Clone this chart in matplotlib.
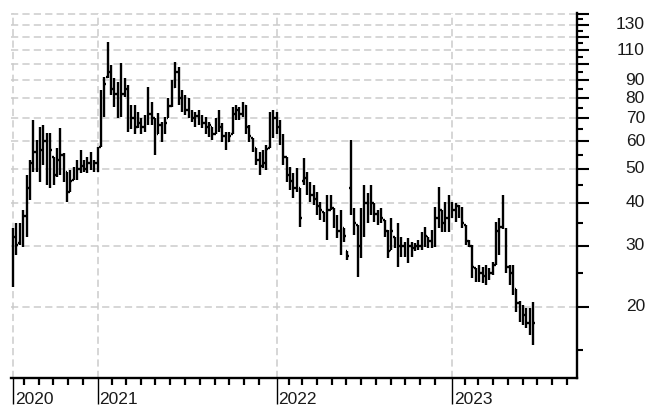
import numpy as np
import pandas as pd
import matplotlib
matplotlib.use("Agg")
import matplotlib.pyplot as plt
import matplotlib.dates as mdates
import matplotlib.transforms as mtrans

plt.rcParams['font.family'] = ['Liberation Sans', 'DejaVu Sans']
plt.rcParams['lines.scale_dashes'] = False

# Weekly OHLC bars (Friday dates)
first_week = "2020-07-10"
n_weeks = 155

highs = [33.8, 35.0, 35.0, 38.1, 48.1, 53.1, 69.3, 60.5, 66.1, 67.0,
         63.6, 63.6, 54.2, 57.5, 65.7, 55.6, 49.0, 49.7, 50.7, 53.1,
         56.8, 53.1, 54.2, 56.0, 53.1, 57.9, 84.6, 92.2, 116.3, 99.9,
         91.6, 89.1, 101.2, 91.6, 87.4, 76.5, 76.5, 73.1, 70.2, 71.6,
         86.3, 78.1, 70.2, 72.6, 68.4, 70.7, 80.2, 90.4, 101.9, 98.5,
         84.6, 81.8, 80.2, 74.1, 73.1, 74.1, 71.6, 70.7, 68.4, 66.1,
         70.2, 74.1, 67.9, 64.0, 64.0, 75.5, 76.5, 75.5, 78.1, 76.5,
         67.0, 61.5, 57.5, 56.0, 56.8, 58.7, 73.1, 74.1, 73.1, 69.3,
         63.0, 54.2, 50.7, 48.7, 50.4, 44.1, 53.8, 49.0, 45.9, 45.0,
         42.9, 40.2, 37.6, 42.1, 42.1, 38.6, 36.9, 38.1, 33.8, 28.9,
         60.7, 38.6, 34.5, 38.6, 45.0, 42.6, 45.0, 40.0, 38.1, 38.6,
         35.6, 33.3, 36.1, 31.8, 35.0, 31.8, 30.8, 31.6, 30.8, 30.6,
         31.2, 32.9, 34.0, 31.8, 33.3, 38.9, 44.4, 38.1, 40.2, 42.1,
         40.2, 40.0, 39.4, 38.9, 34.5, 31.2, 30.2, 25.9, 26.4, 26.1,
         26.4, 25.9, 27.0, 35.2, 36.1, 42.1, 33.8, 26.4, 26.4, 22.6,
         20.8, 20.3, 19.9, 19.9, 20.7]

lows = [22.8, 28.2, 30.2, 29.8, 31.8, 40.7, 49.0, 49.0, 45.9, 51.4,
        45.0, 44.0, 45.0, 47.4, 48.1, 45.9, 40.2, 42.9, 46.5, 46.5,
        48.7, 49.0, 48.7, 49.7, 49.0, 49.0, 57.9, 70.7, 91.6, 81.8,
        75.5, 70.2, 70.7, 80.7, 64.0, 65.0, 63.0, 65.7, 63.0, 64.0,
        67.0, 67.0, 54.9, 63.0, 59.9, 63.0, 70.2, 75.5, 85.7, 76.5,
        73.1, 71.6, 70.2, 68.4, 66.1, 67.0, 65.7, 63.0, 61.9, 60.7,
        63.0, 64.0, 59.9, 56.8, 59.9, 63.0, 69.3, 69.3, 70.7, 63.0,
        59.9, 56.0, 51.4, 48.1, 50.4, 49.7, 57.5, 61.5, 63.0, 58.7,
        51.4, 45.9, 43.5, 41.3, 42.9, 34.0, 45.0, 42.1, 40.2, 39.4,
        36.9, 35.6, 35.2, 31.2, 38.1, 33.8, 31.6, 28.2, 30.8, 27.3,
        36.9, 32.3, 24.4, 27.7, 31.8, 35.0, 36.9, 35.2, 34.5, 35.0,
        31.8, 27.7, 29.2, 29.6, 26.1, 27.9, 27.9, 26.8, 27.9, 29.0,
        29.2, 29.2, 29.8, 29.6, 29.6, 29.8, 33.8, 32.8, 32.8, 32.8,
        36.1, 35.2, 36.1, 33.8, 30.2, 29.8, 24.3, 23.6, 23.6, 23.4,
        23.1, 23.9, 24.7, 26.4, 28.2, 33.6, 25.0, 23.1, 21.6, 19.3,
        18.1, 17.7, 17.4, 16.6, 15.5]

opens = [24.0, 31.8, 30.5, 31.2, 36.5, 44.0, 52.0, 56.0, 55.0, 56.8,
         60.0, 47.0, 54.0, 48.0, 53.0, 55.0, 49.0, 43.0, 46.5, 47.0,
         50.0, 51.0, 50.0, 52.0, 51.0, 52.0, 58.0, 80.0, 92.0, 95.0,
         85.0, 82.0, 78.0, 82.0, 85.0, 68.0, 70.0, 66.0, 68.0, 66.0,
         68.0, 72.0, 70.0, 63.0, 67.0, 64.0, 70.2, 76.0, 86.0, 95.0,
         80.0, 76.0, 74.0, 72.0, 70.0, 71.0, 70.0, 68.0, 66.0, 66.1,
         63.0, 67.0, 66.0, 62.0, 60.0, 63.0, 72.0, 74.0, 72.0, 76.0,
         66.0, 61.5, 57.5, 53.0, 51.0, 52.0, 57.5, 68.0, 70.0, 66.0,
         62.0, 54.0, 48.0, 46.0, 44.0, 44.0, 46.0, 47.0, 44.0, 42.0,
         41.0, 39.0, 37.6, 36.0, 38.1, 38.6, 35.0, 33.0, 33.8, 28.9,
         44.0, 38.0, 34.5, 30.0, 36.0, 40.0, 38.0, 40.0, 37.0, 36.0,
         35.6, 33.0, 29.2, 31.8, 31.0, 30.0, 30.0, 29.0, 30.0, 29.5,
         30.0, 30.0, 31.0, 31.8, 31.0, 31.5, 36.0, 38.0, 35.0, 36.0,
         39.0, 38.0, 39.0, 37.0, 34.5, 31.0, 30.0, 25.9, 25.0, 25.0,
         24.5, 25.0, 25.0, 26.4, 33.0, 34.0, 33.0, 26.0, 25.0, 22.6,
         20.5, 19.0, 19.0, 18.0, 17.0]

closes = [31.8, 30.2, 31.2, 36.5, 44.0, 52.0, 56.0, 55.0, 56.8, 60.0,
          47.0, 56.8, 48.0, 53.0, 55.0, 49.0, 43.0, 46.0, 47.0, 50.0,
          51.0, 50.0, 52.0, 51.0, 52.0, 56.0, 80.0, 88.0, 95.0, 85.0,
          82.0, 78.0, 82.0, 85.0, 68.0, 70.0, 66.0, 68.0, 66.0, 68.0,
          72.0, 70.0, 62.0, 67.0, 64.0, 68.0, 76.0, 86.0, 95.0, 80.0,
          76.0, 74.0, 72.0, 70.0, 71.0, 70.0, 68.0, 66.0, 67.0, 63.0,
          67.0, 66.0, 62.0, 60.0, 62.0, 72.0, 74.0, 72.0, 76.0, 66.0,
          62.0, 58.0, 53.0, 51.0, 52.0, 57.0, 68.0, 70.0, 66.0, 62.0,
          54.0, 48.0, 46.0, 44.0, 45.0, 36.0, 47.0, 44.0, 42.0, 41.0,
          39.0, 38.0, 36.0, 38.0, 40.0, 35.0, 33.0, 35.0, 32.0, 28.0,
          38.0, 35.0, 30.0, 36.0, 40.0, 38.0, 40.0, 37.0, 36.0, 36.0,
          33.0, 29.0, 33.0, 31.0, 30.0, 30.0, 29.0, 30.0, 29.5, 30.0,
          30.0, 31.0, 32.0, 31.0, 31.5, 36.0, 38.0, 35.0, 36.0, 39.0,
          38.0, 39.0, 37.0, 35.0, 31.0, 30.0, 26.0, 25.0, 25.0, 24.5,
          25.0, 25.0, 26.0, 33.0, 34.0, 36.0, 26.0, 25.0, 23.0, 20.5,
          19.0, 19.0, 18.0, 17.0, 18.0]

y_label_values = [20, 30, 40, 50, 60, 70, 80, 90, 110, 130]
y_grid_values = [20, 30, 40, 50, 60, 70, 80, 90, 100, 110, 120, 130, 140]
y_minor_values = [15, 25, 35, 45, 55, 65, 75, 85, 95, 105, 115, 125, 135]
year_labels = ["2020", "2021", "2022", "2023"]

dates = pd.date_range(first_week, periods=n_weeks, freq="7D")
x = mdates.date2num(dates.to_pydatetime())

W, H = 659, 408
fig = plt.figure(figsize=(W / 100, H / 100), dpi=100)
ax = fig.add_axes([11 / W, 1 - 378 / H, (577 - 11) / W, (378 - 12.7) / H])

ax.set_yscale("log")
ax.set_ylim(12.48, 141)
base = mdates.date2num(pd.Timestamp("2021-01-01").to_pydatetime())
ax.set_xlim(base - 179.3, base + 993.8)

grid_col = "#cbcbcb"
dash = (5.2, 3.0)
for v in y_grid_values:
    ax.axhline(v, color=grid_col, lw=1.1, dashes=dash, zorder=1)

# year markers: first bar of each year
year_pos = []
for yl in year_labels:
    idx = np.where(dates.year == int(yl))[0][0]
    year_pos.append(x[idx])
for xp in year_pos:
    ax.axvline(xp, color=grid_col, lw=1.1, dashes=dash, zorder=1)

# OHLC bars
tick_w = 3.2
ax.vlines(x, lows, highs, color="black", lw=1.7, zorder=3)
ax.hlines(opens, x - tick_w, x, color="black", lw=1.7, zorder=3)
ax.hlines(closes, x, x + tick_w, color="black", lw=1.7, zorder=3)

# spines
for s in ["left", "top"]:
    ax.spines[s].set_visible(False)
ax.spines["right"].set_linewidth(1.7)
ax.spines["bottom"].set_linewidth(1.7)

# y ticks on right
ax.yaxis.tick_right()
ax.yaxis.set_major_locator(matplotlib.ticker.FixedLocator(y_grid_values))
ax.yaxis.set_minor_locator(matplotlib.ticker.FixedLocator(y_minor_values))
ax.yaxis.set_major_formatter(matplotlib.ticker.NullFormatter())
ax.yaxis.set_minor_formatter(matplotlib.ticker.NullFormatter())
ax.tick_params(axis="y", which="major", length=8.6, width=1.5, direction="out")
ax.tick_params(axis="y", which="minor", length=4.3, width=1.5, direction="out")

lab_tr = mtrans.blended_transform_factory(fig.transFigure, ax.transData)
for v in y_label_values:
    ax.text(645 / W, v, str(v), transform=lab_tr, ha="right", va="center",
            fontsize=12.5, color="#1a1a1a")

# x ticks: months (minor) and year markers (major)
months = pd.date_range("2020-08-01", "2023-09-01", freq="MS")
months = months[months.month != 1]
ax.xaxis.set_major_locator(matplotlib.ticker.FixedLocator(year_pos))
ax.xaxis.set_minor_locator(matplotlib.ticker.FixedLocator(
    mdates.date2num(months.to_pydatetime())))
ax.xaxis.set_major_formatter(matplotlib.ticker.NullFormatter())
ax.xaxis.set_minor_formatter(matplotlib.ticker.NullFormatter())
ax.tick_params(axis="x", which="major", length=19, width=1.0, direction="out")
ax.tick_params(axis="x", which="minor", length=5, width=1.6, direction="out")

for xp, yl in zip(year_pos, year_labels):
    ax.annotate(yl, xy=(xp, 0), xycoords=("data", "axes fraction"),
                xytext=(1.2, -18.6), textcoords="offset points",
                ha="left", va="baseline", fontsize=12.5, color="#1a1a1a")

fig.savefig("out.png", dpi=100)
